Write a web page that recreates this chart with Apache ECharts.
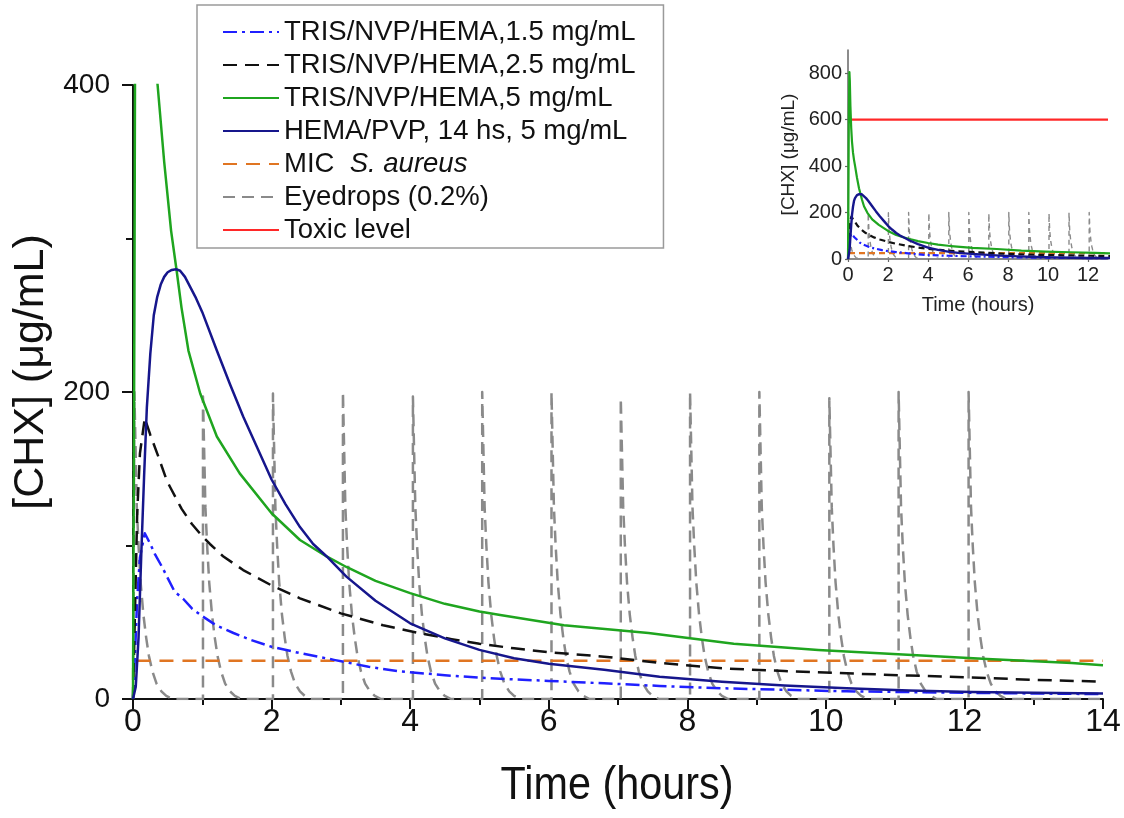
<!DOCTYPE html>
<html>
<head>
<meta charset="utf-8">
<script src="https://cdn.jsdelivr.net/npm/echarts@6/dist/echarts.min.js"></script>
<style>
html,body{margin:0;padding:0;background:#fff;}
#chart{width:1124px;height:818px;}
</style>
</head>
<body>
<div id="chart"></div>
<script>
// ---- Data ----
const seriesNames = [
  'TRIS/NVP/HEMA,1.5 mg/mL',
  'TRIS/NVP/HEMA,2.5 mg/mL',
  'TRIS/NVP/HEMA,5 mg/mL',
  'HEMA/PVP, 14 hs, 5 mg/mL',
  'MIC S. aureus',
  'Eyedrops (0.2%)',
  'Toxic level'
];

// TRIS/NVP/HEMA 1.5 mg/mL
const t15 = [0, 0.03, 0.06, 0.1, 0.17, 0.25, 0.32, 0.42, 0.6, 0.73, 0.85, 1.0, 1.2, 1.45, 1.7, 2.0, 2.4, 2.9, 3.4, 3.85, 4.5, 5.0, 5.5, 6.0, 6.8, 7.6, 8.5, 9.4, 10.3, 11.2, 12.1, 13.0, 14.0];
const v15 = [0, 30, 65, 92, 108, 101, 94, 86, 70, 65, 59, 54, 48, 43, 38.5, 34, 30, 25.5, 21, 18, 15.5, 13.9, 12.8, 11.8, 10.2, 8.5, 7, 6, 5, 4.5, 4, 3.6, 3.2];

// TRIS/NVP/HEMA 2.5 mg/mL
const t25 = [0, 0.03, 0.06, 0.1, 0.17, 0.25, 0.365, 0.49, 0.56, 0.7, 0.85, 1.0, 1.11, 1.3, 1.59, 2.0, 2.41, 3.0, 3.61, 4.14, 4.6, 5.0, 5.5, 6.0, 6.8, 7.6, 8.5, 9.4, 10.3, 11.2, 12.1, 13.0, 14.0];
const v25 = [0, 60, 120, 160, 183, 172, 158, 142, 136, 124, 114, 106, 101, 93, 84, 74, 65.6, 55.8, 48, 42.8, 39, 36, 33, 30.5, 27.6, 23.5, 20, 18.2, 16.7, 15.3, 14, 12.5, 11.3];

// TRIS/NVP/HEMA 5 mg/mL
const t5 = [0, 0.02, 0.04, 0.07, 0.09, 0.12, 0.16, 0.2, 0.25, 0.3, 0.355, 0.45, 0.55, 0.63, 0.7, 0.8, 0.97, 1.21, 1.54, 2.0, 2.41, 2.8, 3.08, 3.5, 4.0, 4.5, 5.0, 5.3, 6.22, 7.44, 8.67, 9.89, 11.11, 12.33, 13.55, 14.0];
const v5 = [0, 250, 600, 805, 770, 660, 565, 505, 458, 427, 400, 350, 305, 279, 255, 227, 199, 171, 147, 121, 103.6, 92.7, 86, 77, 69, 62, 57, 54.7, 48, 43, 36, 32, 29, 26, 23.5, 22];

// HEMA/PVP, 14 hs, 5 mg/mL
const tPVP = [0, 0.04, 0.08, 0.12, 0.16, 0.2, 0.25, 0.3, 0.35, 0.4, 0.45, 0.5, 0.56, 0.62, 0.68, 0.75, 0.9, 1.0, 1.21, 1.4, 1.59, 1.8, 2.0, 2.2, 2.41, 2.6, 2.8, 3.08, 3.5, 4.0, 4.5, 5.0, 5.5, 6.0, 6.8, 7.6, 8.5, 9.4, 10.3, 11.2, 12.1, 13.0, 14.0];
const vPVP = [0, 8, 40, 95, 145, 190, 225, 250, 262, 270, 275, 278, 279.5, 280, 279, 275, 262, 252, 227, 205, 184, 163, 143, 127, 112, 101, 92.7, 79.7, 64, 49.3, 39.5, 32, 26.5, 23, 19, 14.5, 11.3, 8.8, 7, 5.6, 4.5, 4, 3.6];

// MIC S. aureus
const tMIC = [0.05, 14];
const vMIC = [25, 25];

// Toxic level (inset)
const tTox = [0, 13];
const vTox = [600, 600];

// Eyedrops (0.2%): dose times, peak values, and decay after each dose
const eyeDoseTimes = [0.02, 1.01, 2.02, 3.03, 4.04, 5.04, 6.04, 7.04, 8.04, 9.04, 10.05, 11.05, 12.06];
const eyePeaks = [200, 197, 199, 200, 197, 200, 200, 196, 200, 200, 196, 200, 200];
const eyeDecayDt = [0.035, 0.06, 0.09, 0.13, 0.17, 0.21, 0.26, 0.32, 0.39, 0.46, 0.55];
const eyeDecayVal = [125, 100, 76, 55, 40, 28, 18, 10, 5, 2, 0];

// Axis ticks
const mainXTicks = [0, 2, 4, 6, 8, 10, 12, 14];
const mainYTicks = [0, 200, 400];
const insetXTicks = [0, 2, 4, 6, 8, 10, 12];
const insetYTicks = [0, 200, 400, 600, 800];

// ---- Build ----
function pairs(ts, vs) { return ts.map((t, i) => [t, vs[i]]); }
function eyeData(endT) {
  const d = [[0, 0]];
  eyeDoseTimes.forEach((td, i) => {
    d.push([td, 0]);
    d.push([td, eyePeaks[i]]);
    eyeDecayDt.forEach((dt, j) => d.push([td + dt, eyeDecayVal[j]]));
  });
  d.push([endT, 0]);
  return d;
}

const C = {
  b15: '#2020ff', b25: '#111111', g5: '#1fa51f', pvp: '#16168c',
  mic: '#e07522', eye: '#8a8a8a', tox: '#ff2828'
};
const dash = {
  b15: [14, 5, 3, 5], b25: [14, 8], mic: [14, 9], eye: [12, 7]
};
const dashSmall = {
  b15: [6, 3, 2, 3], b25: [6, 4], mic: [6, 4], eye: [5, 4]
};

const FONT = "'Liberation Sans', Arial, sans-serif";

function mk(name, data, color, width, type, xi, z) {
  return {
    name: name, type: 'line', xAxisIndex: xi, yAxisIndex: xi,
    data: data, symbol: 'none', showSymbol: false, smooth: false,
    animation: false, z: z || 2,
    lineStyle: { color: color, width: width, type: type || 'solid', cap: 'butt', join: 'round' },
    itemStyle: { color: color }
  };
}

const series = [];
// main
series.push(mk(seriesNames[5], eyeData(14), C.eye, 2.5, dash.eye, 0, 1));
series.push(mk(seriesNames[4], pairs(tMIC, vMIC), C.mic, 2.5, dash.mic, 0, 2));
series.push(mk(seriesNames[0], pairs(t15, v15), C.b15, 2.5, dash.b15, 0, 3));
series.push(mk(seriesNames[1], pairs(t25, v25), C.b25, 2.5, dash.b25, 0, 3));
series.push(mk(seriesNames[2], pairs(t5, v5), C.g5, 2.5, 'solid', 0, 3));
series.push(mk(seriesNames[3], pairs(tPVP, vPVP), C.pvp, 2.5, 'solid', 0, 4));
// inset
series.push(mk(seriesNames[5], eyeData(13), C.eye, 1.4, dashSmall.eye, 1, 1));
series.push(mk(seriesNames[4], pairs([0.05, 13], vMIC), C.mic, 2.2, dashSmall.mic, 1, 2));
series.push(mk(seriesNames[6], pairs(tTox, vTox), C.tox, 2.2, 'solid', 1, 2));
series.push(mk(seriesNames[0], pairs(t15, v15), C.b15, 2.2, dashSmall.b15, 1, 3));
series.push(mk(seriesNames[1], pairs(t25, v25), C.b25, 2.2, dashSmall.b25, 1, 3));
series.push(mk(seriesNames[2], pairs(t5, v5), C.g5, 2.2, 'solid', 1, 3));
series.push(mk(seriesNames[3], pairs(tPVP, vPVP), C.pvp, 2.4, 'solid', 1, 4));

const option = {
  backgroundColor: '#fff',
  animation: false,
  grid: [
    { left: 133, right: 21, top: 85, bottom: 119, containLabel: false, outerBoundsMode: 'none' },
    { left: 848, right: 16, top: 50, bottom: 559, containLabel: false, outerBoundsMode: 'none' }
  ],
  legend: {
    data: seriesNames,
    orient: 'vertical',
    left: 197, top: 5,
    padding: [13, 28, 4, 25],
    itemWidth: 56, itemHeight: 14, itemGap: 5,
    backgroundColor: '#fff',
    borderColor: '#9a9a9a', borderWidth: 1.5,
    selectedMode: false,
    itemStyle: { opacity: 0, borderWidth: 0 },
    textStyle: {
      fontFamily: FONT, fontSize: 27.5, color: '#111', lineHeight: 26,
      rich: { i: { fontFamily: FONT, fontSize: 27.5, fontStyle: 'italic', color: '#111', lineHeight: 26 } }
    },
    formatter: function (n) {
      if (n === 'MIC S. aureus') return 'MIC  {i|S. aureus}';
      return n;
    }
  },
  xAxis: [
    {
      type: 'value', gridIndex: 0, min: 0, max: 14, interval: 2,
      axisLine: { show: true, onZero: false, lineStyle: { color: '#111', width: 2 } },
      axisTick: { show: true, inside: false, length: 10, lineStyle: { color: '#111', width: 2 } },
      minorTick: { show: true, splitNumber: 2, length: 6, lineStyle: { color: '#111', width: 2 } },
      splitLine: { show: false },
      axisLabel: { fontFamily: FONT, fontSize: 32, color: '#111', margin: 7,
        customValues: mainXTicks }
    },
    {
      type: 'value', gridIndex: 1, min: 0, max: 13,
      axisLine: { show: true, onZero: false, lineStyle: { color: '#666', width: 1.5 } },
      axisTick: { show: true, inside: false, length: 3, customValues: insetXTicks, lineStyle: { color: '#666', width: 1.2 } },
      splitLine: { show: false },
      axisLabel: { fontFamily: FONT, fontSize: 20, color: '#222', margin: 6, customValues: insetXTicks },
      name: 'Time (hours)', nameLocation: 'middle', nameGap: 36,
      nameTextStyle: { fontFamily: FONT, fontSize: 20, color: '#222' }
    }
  ],
  yAxis: [
    {
      type: 'value', gridIndex: 0, min: 0, max: 400, interval: 200,
      axisLine: { show: true, onZero: false, lineStyle: { color: '#111', width: 2 } },
      axisTick: { show: true, inside: false, length: 11, lineStyle: { color: '#111', width: 2 } },
      minorTick: { show: true, splitNumber: 2, length: 7, lineStyle: { color: '#111', width: 2 } },
      splitLine: { show: false },
      axisLabel: { fontFamily: FONT, fontSize: 28, color: '#111', margin: 23, customValues: mainYTicks }
    },
    {
      type: 'value', gridIndex: 1, min: 0, max: 900,
      axisLine: { show: true, onZero: false, lineStyle: { color: '#666', width: 1.5 } },
      axisTick: { show: true, inside: false, length: 3, customValues: insetYTicks, lineStyle: { color: '#666', width: 1.2 } },
      splitLine: { show: false },
      axisLabel: { fontFamily: FONT, fontSize: 20, color: '#222', margin: 6, customValues: insetYTicks },
      name: '[CHX] (\u03bcg/mL)', nameLocation: 'middle', nameGap: 50,
      nameTextStyle: { fontFamily: FONT, fontSize: 19, color: '#222' }
    }
  ],
  graphic: [
    {
      type: 'text', x: 31, y: 372, rotation: Math.PI / 2, z: 10,
      style: { text: '[CHX] (\u03bcg/mL)', font: "43px 'Liberation Sans', Arial, sans-serif",
        fill: '#111', align: 'center', verticalAlign: 'middle' }
    },
    {
      type: 'text', x: 617, y: 786, scaleX: 0.88, z: 10,
      style: { text: 'Time (hours)', font: "47px 'Liberation Sans', Arial, sans-serif",
        fill: '#111', align: 'center', verticalAlign: 'middle' }
    }
  ],
  series: series
};

const chart = echarts.init(document.getElementById('chart'), null, { renderer: 'canvas' });
chart.setOption(option);
</script>
</body>
</html>
